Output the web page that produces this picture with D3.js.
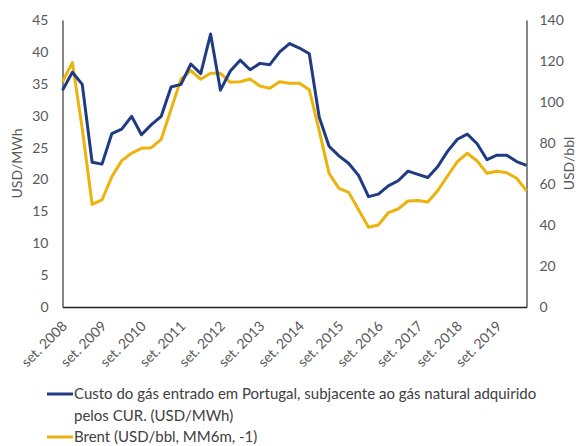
<!DOCTYPE html>
<html>
<head>
<meta charset="utf-8">
<script src="https://cdn.jsdelivr.net/npm/d3@7"></script>
<style>
  body { margin: 0; background: #fff; }
  svg { display: block; font-family: Lato, "Open Sans", sans-serif; }
</style>
</head>
<body>
<script>

// Quarterly categories, set. 2008 .. jun. 2020
const months = ["set.", "dez.", "mar.", "jun."];
const periods = [];
for (let i = 0; i < 48; i++) {
    const year = (i % 4 < 2) ? 2008 + Math.floor(i / 4) : 2009 + Math.floor(i / 4);
    periods.push(months[i % 4] + " " + year);
}

// Custo do gás (USD/MWh), left axis
const gasCost = [34.0, 36.8, 34.9, 22.7, 22.4, 27.2, 27.9, 29.9, 27.0, 28.6, 29.9, 34.5,
                 34.9, 38.1, 36.6, 42.8, 34.0, 37.0, 38.7, 37.2, 38.2, 38.0, 40.0, 41.3,
                 40.6, 39.7, 29.8, 25.2, 23.7, 22.5, 20.6, 17.3, 17.7, 19.0, 19.8, 21.3,
                 20.8, 20.3, 22.0, 24.4, 26.3, 27.1, 25.6, 23.1, 23.8, 23.8, 22.8, 22.2];

// Brent (USD/bbl, MM6m, -1), right axis
const brent = [109.9, 119.2, 87.0, 50.1, 52.2, 63.6, 71.4, 75.0, 77.4, 77.7, 81.8, 96.5,
               111.1, 115.3, 111.1, 114.0, 114.0, 109.6, 109.9, 111.2, 107.8, 106.7, 109.9, 109.1,
               109.1, 106.0, 86.0, 65.2, 57.9, 55.9, 47.3, 38.9, 40.0, 46.0, 47.8, 51.7,
               51.9, 51.2, 56.7, 63.9, 70.9, 75.0, 71.2, 65.2, 66.2, 65.5, 62.8, 56.7];

const leftTicks = [0, 5, 10, 15, 20, 25, 30, 35, 40, 45];
const rightTicks = [0, 20, 40, 60, 80, 100, 120, 140];

const gasLabel = ["Custo do gás entrado em Portugal, subjacente ao gás natural adquirido",
                  "pelos CUR. (USD/MWh)"];
const brentLabel = "Brent (USD/bbl, MM6m, -1)";

const width = 576;
const height = 446;
const marginTop = 20;
const marginBottom = 139;
const marginLeft = 62.5;
const marginRight = 49.5;

const blue = "#1f3b84";
const yellow = "#ebb30c";
const textColor = "#595959";

const x = d3.scalePoint(d3.range(periods.length), [marginLeft, width - marginRight]);
const yLeft = d3.scaleLinear([0, 45], [height - marginBottom, marginTop]);
const yRight = d3.scaleLinear([0, 140], [height - marginBottom, marginTop]);

const svg = d3.create("svg")
    .attr("width", width)
    .attr("height", height)
    .attr("viewBox", [0, 0, width, height]);

// Left axis
svg.append("g")
    .attr("transform", `translate(${marginLeft},0)`)
    .call(d3.axisLeft(yLeft).tickValues(leftTicks).tickSize(0).tickSizeOuter(0).tickPadding(14))
    .call(g => g.select(".domain").attr("stroke", "#444").attr("stroke-width", 1.3))
    .call(g => g.selectAll(".tick text").attr("fill", textColor).attr("font-size", "14px")
        .attr("font-family", "Lato, sans-serif"));

// Right axis
svg.append("g")
    .attr("transform", `translate(${width - marginRight},0)`)
    .call(d3.axisRight(yRight).tickValues(rightTicks).tickSize(0).tickSizeOuter(0).tickPadding(13))
    .call(g => g.select(".domain").attr("stroke", "#444").attr("stroke-width", 1.3))
    .call(g => g.selectAll(".tick text").attr("fill", textColor).attr("font-size", "14px")
        .attr("font-family", "Lato, sans-serif"));

// Bottom axis, labels only every September
svg.append("g")
    .attr("transform", `translate(0,${height - marginBottom})`)
    .call(d3.axisBottom(x).tickValues(d3.range(0, periods.length, 4)).tickSize(0).tickSizeOuter(0)
        .tickFormat(i => periods[i]))
    .call(g => g.select(".domain").attr("stroke", "#222").attr("stroke-width", 1.3))
    .call(g => g.selectAll(".tick text")
        .attr("fill", textColor)
        .attr("font-size", "14px")
        .attr("font-family", "Lato, sans-serif")
        .attr("text-anchor", "end")
        .attr("dy", null)
        .attr("y", 0)
        .attr("transform", "translate(5,20) rotate(-45)"));

// Axis titles
svg.append("text")
    .attr("transform", `translate(22,${(marginTop + height - marginBottom) / 2}) rotate(-90)`)
    .attr("text-anchor", "middle")
    .attr("fill", textColor)
    .attr("font-size", "14px")
    .text("USD/MWh");

svg.append("text")
    .attr("transform", `translate(574,${(marginTop + height - marginBottom) / 2}) rotate(-90)`)
    .attr("text-anchor", "middle")
    .attr("fill", textColor)
    .attr("font-size", "14px")
    .text("USD/bbl");

// Lines
const gasLine = d3.line()
    .x((d, i) => x(i))
    .y(d => yLeft(d));

const brentLine = d3.line()
    .x((d, i) => x(i))
    .y(d => yRight(d));

svg.append("path")
    .attr("fill", "none")
    .attr("stroke", yellow)
    .attr("stroke-width", 3)
    .attr("stroke-linejoin", "round")
    .attr("d", brentLine(brent));

svg.append("path")
    .attr("fill", "none")
    .attr("stroke", blue)
    .attr("stroke-width", 3)
    .attr("stroke-linejoin", "round")
    .attr("d", gasLine(gasCost));

// Legend
const legend = svg.append("g").attr("font-size", "15px").attr("fill", "#404040");

legend.append("line")
    .attr("x1", 47).attr("x2", 73).attr("y1", 394).attr("y2", 394)
    .attr("stroke", blue).attr("stroke-width", 3);
legend.append("text")
    .attr("x", 74).attr("y", 399)
    .text(gasLabel[0]);
legend.append("text")
    .attr("x", 74).attr("y", 421)
    .text(gasLabel[1]);

legend.append("line")
    .attr("x1", 47).attr("x2", 73).attr("y1", 437).attr("y2", 437)
    .attr("stroke", yellow).attr("stroke-width", 3);
legend.append("text")
    .attr("x", 74).attr("y", 442)
    .text(brentLabel);

document.body.appendChild(svg.node());
</script>
</body>
</html>
